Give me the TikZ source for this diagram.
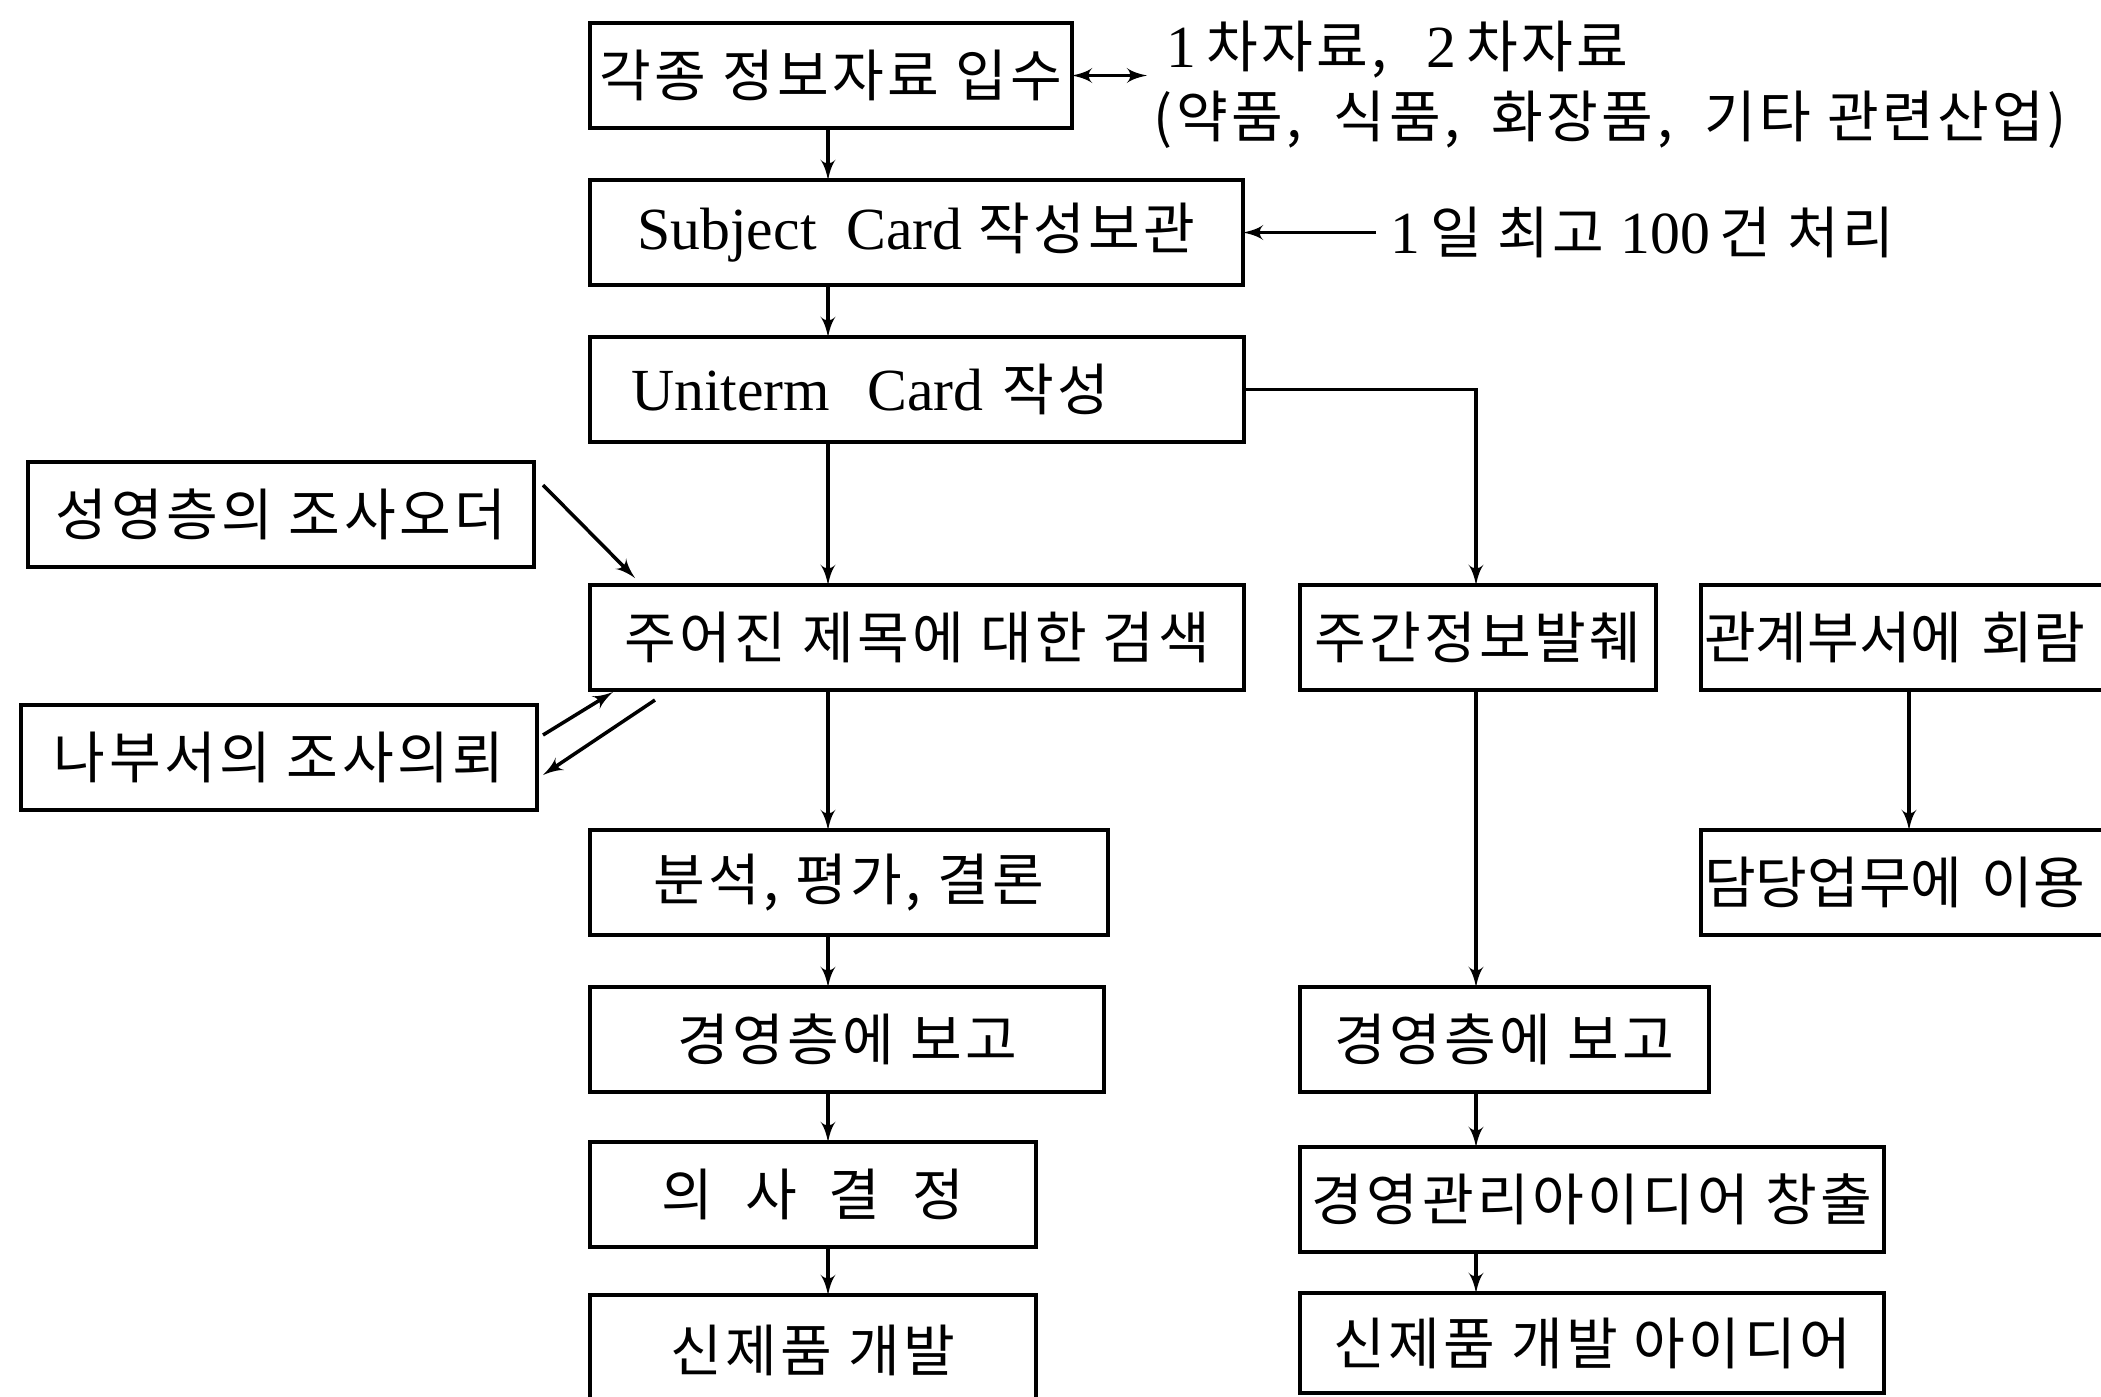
\documentclass[tikz,border=0pt]{standalone}
\usepackage{fontspec}
\setmainfont{Liberation Serif}
\newfontfamily\kofont[LetterSpace=6]{Noto Sans CJK KR}
\newfontfamily\kotight{Noto Sans CJK KR}
\usetikzlibrary{arrows,positioning}
\newcommand\lat[1]{{\rmfamily\fontsize{17}{20}\selectfont #1}}
\tikzset{
	block/.style = {draw, line width=1.1pt, rectangle, minimum height=1.05cm, inner sep=0pt, outer sep=0pt, font=\kofont\fontsize{16}{19}\selectfont},
	note/.style = {draw=none, inner sep=0pt, font=\kofont\fontsize{16}{19}\selectfont},
	coord/.style = {coordinate}
}
\begin{document}
\begin{tikzpicture}[auto, >=latex', line width=1pt]
		\useasboundingbox (0,0) rectangle (21.01,-13.96);
		\clip (0,0) rectangle (21.01,-13.96);
		% main column
		\node [block, minimum width=4.82cm, anchor=north west] (collect) at (5.90,-0.23) {각종 정보자료 입수};
		\node [block, minimum width=6.53cm, below=0.52cm of collect.south west, anchor=north west] (subject) {\lat{Subject\ \ Card} 작성보관};
		\node [block, text width=5.72cm, align=left, inner xsep=0.41cm, below=0.52cm of subject.south west, anchor=north west] (uniterm) {\lat{Uniterm\ \ Card} 작성};
		\node [block, minimum width=6.54cm, below=1.43cm of uniterm.south west, anchor=north west] (search) {주어진 제목에 대한 검색};
		\node [block, minimum width=5.18cm, below=1.40cm of search.south west, anchor=north west] (analysis) {분석,\ 평가,\ 결론};
		\node [block, minimum width=5.14cm, below=0.52cm of analysis.south west, anchor=north west] (report1) {경영층에 보고};
		\node [block, minimum width=4.46cm, below=0.50cm of report1.south west, anchor=north west] (decision) {의\ \ 사\ \ 결\ \ 정};
		\node [block, minimum width=4.46cm, minimum height=1.1cm, below=0.48cm of decision.south west, anchor=north west] (newprod) {신제품 개발};
		% right columns
		\node [block, minimum width=3.56cm, right=0.56cm of search.north east, anchor=north west] (weekly) {주간정보발췌};
		\node [block, font=\kotight\fontsize{16}{19}\selectfont, text width=4.1cm, align=left, inner xsep=0.03cm, right=0.45cm of weekly.north east, anchor=north west] (circ) {관계부서에 회람};
		\node [block, font=\kotight\fontsize{16}{19}\selectfont, text width=4.1cm, align=left, inner xsep=0.03cm, below=1.40cm of circ.south west, anchor=north west] (duty) {담당업무에 이용};
		\node [block, minimum width=4.09cm, below=2.97cm of weekly.south west, anchor=north west] (report2) {경영층에 보고};
		\node [block, minimum width=5.84cm, below=0.55cm of report2.south west, anchor=north west] (idea) {경영관리아이디어 창출};
		\node [block, minimum width=5.84cm, minimum height=1.0cm, below=0.41cm of idea.south west, anchor=north west] (newidea) {신제품 개발 아이디어};
		% left requests
		\node [block, minimum width=5.06cm, above left=1.23cm and 0.56cm of search.north west, anchor=north east] (order) {성영층의 조사오더};
		\node [block, minimum width=5.16cm, below left=1.20cm and 0.53cm of search.north west, anchor=north east] (request) {나부서의 조사의뢰};
		% notes
		\node [note, above right=0.26cm and 0.93cm of collect.east, anchor=west] (kinds) {\lat{1}\,차자료,\hspace{0.4cm}\lat{2}\,차자료};
		\node [note, below right=0.44cm and 0.80cm of collect.east, anchor=west] (fields) {(약품,\ \ 식품,\ \ 화장품,\ \ 기타 관련산업)};
		\node [note, inner xsep=0.13cm, right=1.33cm of subject.east] (limit) {\lat{1}\,일 최고 \lat{100}\,건 처리};
		\coordinate (lspine) at ([xshift=2.38cm]collect.south west);
		\coordinate (rspine) at ([xshift=1.76cm]weekly.north west);
		\coordinate (srcend) at ([xshift=0.75cm]collect.east);
		% connectors
		\draw [<->] (collect.east) -- (srcend);
		\draw [->] (limit.west) -- (subject.east);
		\draw [->] (collect.south -| lspine) -- (subject.north -| lspine);
		\draw [->] (subject.south -| lspine) -- (uniterm.north -| lspine);
		\draw [->] (uniterm.south -| lspine) -- (search.north -| lspine);
		\draw [->] (search.south -| lspine) -- (analysis.north -| lspine);
		\draw [->] (analysis.south -| lspine) -- (report1.north -| lspine);
		\draw [->] (report1.south -| lspine) -- (decision.north -| lspine);
		\draw [->] (decision.south -| lspine) -- (newprod.north -| lspine);
		\draw [->] (uniterm.east) -| (weekly.north -| rspine);
		\draw [->] (weekly.south -| rspine) -- (report2.north -| rspine);
		\draw [->] (report2.south -| rspine) -- (idea.north -| rspine);
		\draw [->] (idea.south -| rspine) -- (newidea.north -| rspine);
		\draw [->] (circ.south) -- (duty.north);
		\draw [->] ([shift={(0.09,-0.23)}]order.north east) -- ([shift={(0.45,0.07)}]search.north west);
		\draw [->] ([shift={(0.06,-0.30)}]request.north east) -- ([shift={(0.23,-0.02)}]search.south west);
		\draw [->] ([shift={(0.65,-0.10)}]search.south west) -- ([shift={(0.06,-0.70)}]request.north east);
\end{tikzpicture}
\end{document}
